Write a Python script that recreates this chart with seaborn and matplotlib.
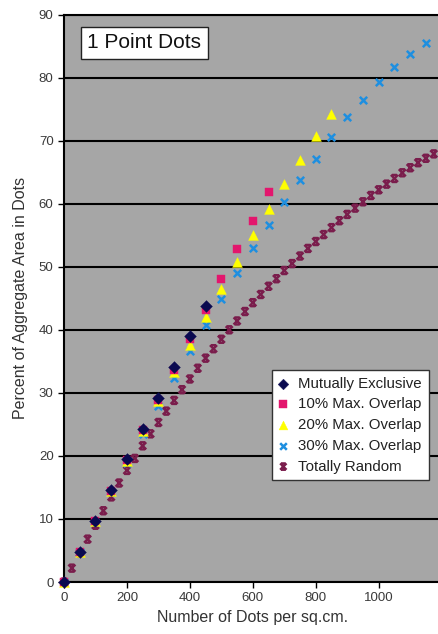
import matplotlib
matplotlib.use("Agg")
import matplotlib.pyplot as plt
from matplotlib.path import Path
import seaborn as sns
import pandas as pd

# Dot counts per sq.cm. for each packing rule
x_mutual = [0, 50, 100, 150, 200, 250, 300, 350, 400, 450]
y_mutual = [0, 4.8, 9.7, 14.6, 19.5, 24.3, 29.2, 34.1, 39.0, 43.8]

x_ov10 = [0, 50, 100, 150, 200, 250, 300, 350, 400, 450, 500, 550, 600, 650]
y_ov10 = [0, 4.8, 9.6, 14.5, 19.3, 24.1, 28.9, 33.7, 38.5, 43.2, 48.1, 52.8, 57.3, 61.9]

x_ov20 = [0, 50, 100, 150, 200, 250, 300, 350, 400, 450, 500, 550, 600, 650, 700, 750, 800, 850]
y_ov20 = [0, 4.8, 9.6, 14.4, 19.2, 23.9, 28.7, 33.3, 37.6, 42.1, 46.5, 50.8, 55.0, 59.2, 63.1, 67.0, 70.8, 74.3]

x_ov30 = [0, 50, 100, 150, 200, 250, 300, 350, 400, 450, 500, 550, 600, 650, 700, 750,
          800, 850, 900, 950, 1000, 1050, 1100, 1150]
y_ov30 = [0, 4.7, 9.5, 14.2, 18.8, 23.4, 27.9, 32.4, 36.6, 40.8, 44.9, 49.0, 52.9, 56.6, 60.3, 63.8,
          67.1, 70.6, 73.8, 76.5, 79.3, 81.6, 83.8, 85.5]

x_random = [0, 25, 50, 75, 100, 125, 150, 175, 200, 225, 250, 275, 300, 325, 350, 375,
            400, 425, 450, 475, 500, 525, 550, 575, 600, 625, 650, 675, 700, 725, 750, 775,
            800, 825, 850, 875, 900, 925, 950, 975, 1000, 1025, 1050, 1075, 1100, 1125, 1150, 1175]
y_random = [0, 2.2, 4.6, 6.8, 9.0, 11.3, 13.5, 15.7, 17.7, 19.6, 21.6, 23.5, 25.3, 27.1, 28.8, 30.5,
            32.2, 33.9, 35.5, 37.0, 38.5, 40.0, 41.4, 42.9, 44.3, 45.6, 46.9, 48.1, 49.4, 50.5, 51.7, 52.9,
            54.0, 55.1, 56.2, 57.3, 58.3, 59.3, 60.3, 61.3, 62.2, 63.1, 64.0, 64.9, 65.7, 66.5, 67.2, 67.9]

series_names = ["Mutually Exclusive", "10% Max. Overlap", "20% Max. Overlap",
                "30% Max. Overlap", "Totally Random"]
x_ticks = [0, 200, 400, 600, 800, 1000]
y_ticks = [0, 10, 20, 30, 40, 50, 60, 70, 80, 90]

sns.set_theme(style="white")
plt.rcParams["font.family"] = ["Liberation Sans", "DejaVu Sans"]

fig = plt.figure(figsize=(4.39, 6.34), dpi=100)
ax = fig.add_axes([0.1458, 0.0820, 0.8602, 0.8951])
ax.set_facecolor("#a6a6a6")

# star-like marker for the random layout: an X capped top and bottom
star = Path([(-1, -1), (1, 1), (-1, 1), (1, -1),
             (-0.7, 1), (0.7, 1), (-0.7, -1), (0.7, -1)],
            [Path.MOVETO, Path.LINETO, Path.MOVETO, Path.LINETO,
             Path.MOVETO, Path.LINETO, Path.MOVETO, Path.LINETO])

styles = [
    dict(x=x_mutual, y=y_mutual, marker="D", color="#0a0a50", s=36, lw=0.3, filled=True),
    dict(x=x_ov10, y=y_ov10, marker="s", color="#e3166d", s=34, lw=0.3, filled=True),
    dict(x=x_ov20, y=y_ov20, marker="^", color="#ffff00", s=50, lw=0.3, filled=True),
    dict(x=x_ov30, y=y_ov30, marker="x", color="#1e8fe0", s=28, lw=1.8, filled=False),
    dict(x=x_random, y=y_random, marker=star, color="#7a1d4c", s=26, lw=1.7, filled=False),
]

# draw back to front so the exclusive series sits on top
for name, st, z in reversed(list(zip(series_names, styles, range(5, 0, -1)))):
    df = pd.DataFrame({"n": st["x"], "pct": st["y"]})
    kw = dict(data=df, x="n", y="pct", marker=st["marker"], color=st["color"],
              s=st["s"], linewidth=st["lw"], ax=ax, label=name, zorder=z + 2, clip_on=False)
    if st["filled"]:
        kw["edgecolor"] = st["color"]
    sns.scatterplot(**kw)
    coll = ax.collections[-1]
    if isinstance(st["marker"], Path):
        coll.set_facecolor("none")
        coll.set_edgecolor(st["color"])

ax.set_xlim(0, 1200)
ax.set_ylim(0, 90)
ax.set_xticks(x_ticks)
ax.set_yticks(y_ticks)
ax.yaxis.grid(True, color="black", linewidth=1.5)
ax.xaxis.grid(False)
ax.set_axisbelow(True)

for side in ["left", "bottom", "top"]:
    ax.spines[side].set_visible(True)
    ax.spines[side].set_color("black")
    ax.spines[side].set_linewidth(1.5)
ax.spines["right"].set_visible(False)

ax.tick_params(axis="both", which="major", direction="out", length=4, width=1.0,
               color="black", labelsize=9.5, labelcolor="#3a3a3a", pad=3.5)
ax.tick_params(axis="x", bottom=True)
ax.tick_params(axis="y", left=True)

ax.set_xlabel("Number of Dots per sq.cm.", fontsize=11.5, color="#333333", labelpad=4)
ax.set_ylabel("Percent of Aggregate Area in Dots", fontsize=11.5, color="#333333", labelpad=8)

ax.text(0.2131, 0.950, "1 Point Dots", transform=ax.transAxes, ha="center", va="center",
        fontsize=15, color="#111111", zorder=10,
        bbox=dict(boxstyle="square,pad=0.3", facecolor="white", edgecolor="#222222", linewidth=1.0))

h, l = ax.get_legend_handles_labels()
order = [l.index(n) for n in series_names]
leg = ax.legend([h[i] for i in order], [l[i] for i in order], loc="upper left",
                bbox_to_anchor=(0.551, 0.374), borderaxespad=0, fontsize=10.8,
                frameon=True, fancybox=False, framealpha=1, edgecolor="#333333",
                handlelength=0.6, handletextpad=0.7, labelspacing=0.45,
                borderpad=0.45, markerscale=0.9)
leg.get_frame().set_linewidth(1.0)
for t in leg.get_texts():
    t.set_color("#222222")
leg.set_zorder(20)

fig.savefig("out.png", dpi=100)
